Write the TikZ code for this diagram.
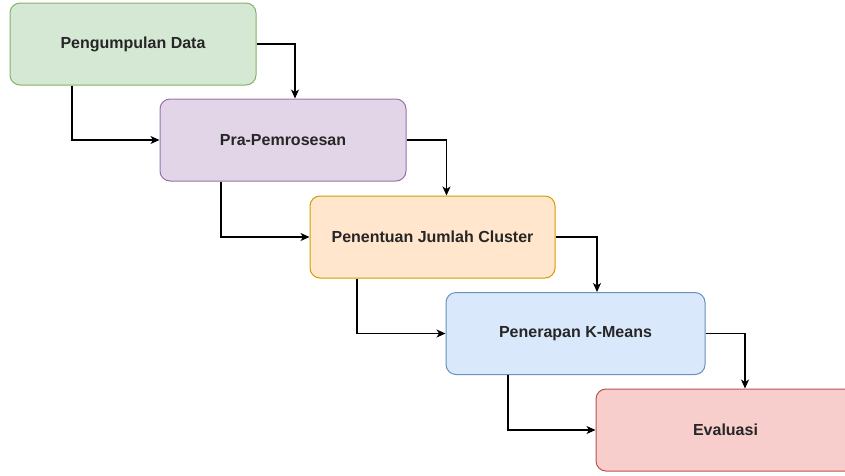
\documentclass[tikz,border=0pt]{standalone}
\usepackage{fontspec}
\setmainfont{Liberation Sans}
\usetikzlibrary{arrows.meta}
\definecolor{gfill}{HTML}{D5E8D4}\definecolor{gdraw}{HTML}{82B366}
\definecolor{pfill}{HTML}{E1D5E7}\definecolor{pdraw}{HTML}{9673A6}
\definecolor{ofill}{HTML}{FFE6CC}\definecolor{odraw}{HTML}{D79B00}
\definecolor{bfill}{HTML}{DAE8FC}\definecolor{bdraw}{HTML}{6C8EBF}
\definecolor{rfill}{HTML}{F8CECC}\definecolor{rdraw}{HTML}{B85450}
\tikzset{
  stepbox/.style={draw, rounded corners=10pt, line width=1pt, minimum height=82pt,
    inner sep=0pt, font=\fontsize{16}{19}\selectfont\bfseries, text=black!85},
  flow/.style={draw=black, line width=1.2pt, -{Stealth[length=9pt,width=8pt,inset=2.5pt]}}
}
\begin{document}
\begin{tikzpicture}[x=1pt,y=-1pt]
\useasboundingbox (0,0) rectangle (845,475);
\clip (0,0) rectangle (845,475);
\node[stepbox, fill=gfill, draw=gdraw, minimum width=246pt] (n1) at (133,44) {Pengumpulan Data};
\node[stepbox, fill=pfill, draw=pdraw, minimum width=246pt] (n2) at (283,140) {Pra-Pemrosesan};
\node[stepbox, fill=ofill, draw=odraw, minimum width=245pt] (n3) at (432.5,237) {Penentuan Jumlah Cluster};
\node[stepbox, fill=bfill, draw=bdraw, minimum width=259pt] (n4) at (575.5,333.5) {Penerapan K-Means};
\node[stepbox, fill=rfill, draw=rdraw, minimum width=259pt] (n5) at (725.5,430) {Evaluasi};
\draw[flow] (n1.east) -| ([xshift=12pt]n2.north);
\draw[flow] ([xshift=-61pt]n1.south) |- (n2.west);
\draw[flow] (n2.east) -| ([xshift=14pt]n3.north);
\draw[flow] ([xshift=-62pt]n2.south) |- (n3.west);
\draw[flow] (n3.east) -| ([xshift=21.5pt]n4.north);
\draw[flow] ([xshift=-75.5pt]n3.south) |- (n4.west);
\draw[flow] (n4.east) -| ([xshift=19.5pt]n5.north);
\draw[flow] ([xshift=-67.5pt]n4.south) |- (n5.west);
\end{tikzpicture}
\end{document}
